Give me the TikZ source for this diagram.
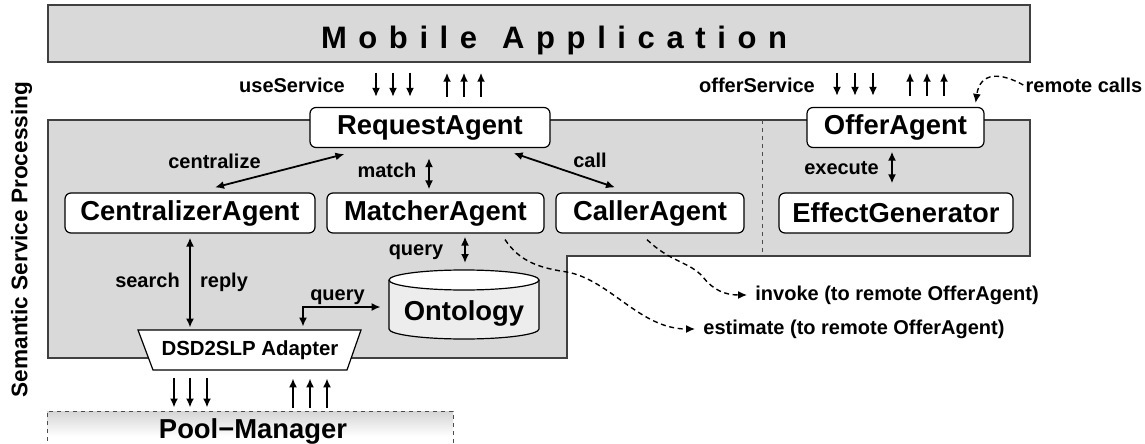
\documentclass[tikz,border=0pt]{standalone}
\usepackage{fontspec}
\setmainfont{Liberation Sans}
\usetikzlibrary{arrows.meta, calc, positioning}
\newcommand{\mobgap}{\hspace{5.8pt}}
\tikzset{
  area/.style={draw=black!75, fill=black!15, line width=0.75pt},
  agent/.style={draw, rounded corners=3pt, fill=white, line width=0.6pt, inner sep=0pt, minimum height=20pt, font=\fontsize{13.7}{16}\selectfont\bfseries},
  title/.style={font=\fontsize{15.5}{18}\selectfont\bfseries},
  lbl/.style={inner sep=1pt, font=\fontsize{10}{12}\selectfont\bfseries},
  arrow/.style={-{Latex[length=4.5pt,width=4pt]}, line width=0.9pt},
  biarrow/.style={{Latex[length=4.5pt,width=4pt]}-{Latex[length=4.5pt,width=4pt]}, line width=0.9pt},
  remote/.style={-{Latex[length=4.5pt,width=4pt]}, line width=0.7pt, dash pattern=on 2.5pt off 1.8pt, shorten >=3pt},
  divider/.style={black!70, line width=0.5pt, dash pattern=on 2pt off 2pt},
  poolbox/.style={draw=black!70, line width=0.5pt, dash pattern=on 2pt off 2pt}
}
\begin{document}
\begin{tikzpicture}[x=0.5pt, y=-0.5pt]
    \useasboundingbox (0,0) rectangle (1145,444);

    % mobile application and processing area
    \node[area, inner sep=0pt, minimum width=491pt, minimum height=28.5pt] (mob) at (539,33.5) {};
    \node[title] (mobtxt) at (554,40) {M\mobgap o\mobgap b\mobgap i\mobgap l\mobgap e\hspace{12.5pt}A\mobgap p\mobgap p\mobgap l\mobgap i\mobgap c\mobgap a\mobgap t\mobgap i\mobgap o\mobgap n};
    \draw[area] (48,120) -- (1030,120) -- (1030,256) -- (567,256) -- (567,358) -- (48,358) -- cycle;
    \draw[divider] (762,120) -- (762,256);
    \node[rotate=90, font=\fontsize{11.3}{13}\selectfont\bfseries] (ssp) at (21.5,239.5) {Semantic Service Processing};

    \begin{scope}
      \clip (47,411) rectangle (453,444);
      \shade[top color=black!22, bottom color=white] (47,402.5) rectangle (453,436.5);
    \end{scope}
    \begin{scope}
      \clip (0,0) rectangle (1145,444);
      \node[poolbox, minimum width=203pt, minimum height=33pt] (poolbox) at (250,444) {};
    \end{scope}
    \node[font=\fontsize{13.7}{16}\selectfont\bfseries] (pool) at (253,431) {Pool−Manager};

    % agents
    \node[agent, minimum width=120pt] (req) at (430,127.5) {RequestAgent};
    \node[agent, minimum width=88.5pt] (offer) at (895.5,127.5) {OfferAgent};
    \node[agent, minimum width=125pt] (cent) at (190,213) {CentralizerAgent};
    \node[agent, minimum width=108.5pt] (match) at (435.5,213) {MatcherAgent};
    \node[agent, minimum width=94pt] (caller) at (650,213) {CallerAgent};
    \node[agent, minimum width=117pt] (effect) at (896,213) {EffectGenerator};

    % ontology and adapter
    \draw[line width=0.6pt, fill=black!7] (389,280) -- (389,329) arc[start angle=180, end angle=360, x radius=37.5pt, y radius=5pt] -- (539,280);
    \draw[line width=0.6pt, fill=white] (464,280) ellipse[x radius=37.5pt, y radius=5pt];
    \node[inner sep=0pt, minimum width=75pt, font=\fontsize{13.7}{16}\selectfont\bfseries] (onto) at (464,313) {Ontology};
    \draw[line width=0.6pt, fill=white] (138,330) -- (361,330) -- (347,370) -- (153,370) -- cycle;
    \node[inner sep=0pt, minimum width=97pt, minimum height=20pt, font=\fontsize{10.2}{12}\selectfont\bfseries] (dsd) at (250,350) {DSD2SLP Adapter};

    % labels
    \node[lbl] (use) at (292,85) {useService};
    \node[lbl] (offsv) at (757,85) {offerService};
    \node[lbl] (rem) at (1084,85) {remote calls};
    \node[lbl] (cz) at (214.5,161.5) {centralize};
    \node[lbl] (mt) at (387,170) {match};
    \node[lbl] (cl) at (590,160) {call};
    \node[lbl] (ex) at (841.5,168.5) {execute};
    \node[lbl, anchor=base] (sr) at (147.5,287) {search};
    \node[lbl, anchor=base] (rp) at (224,287) {reply};
    \node[lbl, anchor=base] (q1) at (337.5,300) {query};
    \node[lbl, anchor=base] (q2) at (416,255) {query};
    \node[lbl, anchor=west] (inv) at (753,295) {invoke (to remote OfferAgent)};
    \node[lbl, anchor=west] (est) at (701,329) {estimate (to remote OfferAgent)};

    % service calls
    \foreach \x in {376,393,410}
      \draw[arrow] ($(mob.south -| \x,0)+(0,10)$) -- ($(req.north -| \x,0)+(0,-10)$);
    \foreach \x in {447,464,481}
      \draw[arrow] ($(req.north -| \x,0)+(0,-10)$) -- ($(mob.south -| \x,0)+(0,10)$);
    \foreach \x in {837,855,873}
      \draw[arrow] ($(mob.south -| \x,0)+(0,10)$) -- ($(offer.north -| \x,0)+(0,-11)$);
    \foreach \x in {910,927,944}
      \draw[arrow] ($(offer.north -| \x,0)+(0,-11)$) -- ($(mob.south -| \x,0)+(0,10)$);
    \foreach \x in {174,190,207}
      \draw[arrow] ($(dsd.south -| \x,0)+(0,8)$) -- ($(poolbox.north -| \x,0)+(0,-3)$);
    \foreach \x in {293,310,327}
      \draw[arrow] ($(poolbox.north -| \x,0)+(0,-3)$) -- ($(dsd.south -| \x,0)+(0,8)$);

    \draw[biarrow] ($(req.south west)+(35,6)$) -- ($(cent.north)+(25,-5)$);
    \draw[biarrow] ($(req.south)+(-1,10)$) -- ($(match.north)+(-6.5,-3)$);
    \draw[biarrow] ($(req.south east)+(-37,5)$) -- ($(caller.north)+(-35,-5)$);
    \draw[biarrow] ($(offer.south)+(-3.5,3.5)$) -- ($(effect.north)+(-4,-9)$);
    \draw[biarrow] ($(cent.south)+(0,4)$) -- ($(dsd.north -| cent.south)+(0,-2)$);
    \draw[biarrow] ($(dsd.north)+(53,-3)$) |- ($(onto.west)+(-8,-6)$);
    \draw[biarrow] ($(match.south)+(29.5,3)$) -- ($(onto)+(1,-50)$);

    % remote interactions
    \draw[remote] ($(match.south)+(69.5,6)$) .. controls (520,262) and (540,268) .. (567,272)
      .. controls (610,280) and (640,329) .. (est.west);
    \draw[remote] ($(caller.south)+(-3,6)$) .. controls (670,262) and (690,262) .. (703,277)
      .. controls (713,290) and (725,295) .. (inv.west);
    \draw[remote, shorten >=0pt] (rem.west) .. controls (1000,72) and (980,72) .. ($(offer.north east)+(-9,-4)$);
\end{tikzpicture}
\end{document}
